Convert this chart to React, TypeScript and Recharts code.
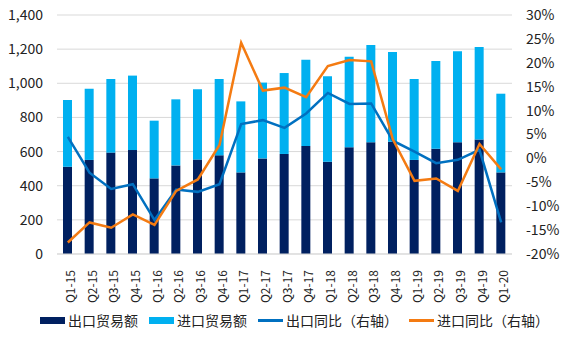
import {
  Bar,
  CartesianGrid,
  ComposedChart,
  Legend,
  Line,
  XAxis,
  YAxis,
} from "recharts";

const QUARTERS = [
  "Q1-15", "Q2-15", "Q3-15", "Q4-15",
  "Q1-16", "Q2-16", "Q3-16", "Q4-16",
  "Q1-17", "Q2-17", "Q3-17", "Q4-17",
  "Q1-18", "Q2-18", "Q3-18", "Q4-18",
  "Q1-19", "Q2-19", "Q3-19", "Q4-19",
  "Q1-20",
];

// 贸易额（左轴）
const EXPORT_VALUE = [
  511, 551, 594, 609, 443, 519, 553, 578, 478, 560, 586,
  633, 541, 625, 654, 658, 551, 617, 654, 670, 478,
];
const IMPORT_VALUE = [
  391, 417, 431, 436, 338, 387, 412, 447, 416, 444, 474,
  505, 500, 531, 570, 525, 474, 514, 533, 543, 461,
];

// 同比，%（右轴）
const EXPORT_YOY = [
  4.5, -3.0, -6.4, -5.4, -12.9, -6.5, -7.0, -5.4, 7.2, 8.0, 6.4,
  9.4, 13.7, 11.4, 11.5, 3.7, 1.4, -1.0, -0.3, 1.8, -13.4,
];
const IMPORT_YOY = [
  -17.6, -13.4, -14.5, -11.7, -13.9, -6.8, -4.4, 2.8, 24.2, 14.2, 14.8,
  12.8, 19.3, 20.6, 20.3, 4.0, -4.7, -4.2, -6.8, 3.0, -2.3,
];

const LEFT_TICKS = [0, 200, 400, 600, 800, 1000, 1200, 1400];
const RIGHT_TICKS = [-20, -15, -10, -5, 0, 5, 10, 15, 20, 25, 30];

const COLORS = {
  exportBar: "#002060",
  importBar: "#00B0F0",
  exportLine: "#0070C0",
  importLine: "#F47B12",
};

const FONT = '"Noto Sans CJK SC", "Noto Sans", sans-serif';

const LEGEND_ITEMS = [
  { label: "出口贸易额", color: COLORS.exportBar, kind: "box" },
  { label: "进口贸易额", color: COLORS.importBar, kind: "box" },
  { label: "出口同比（右轴）", color: COLORS.exportLine, kind: "line" },
  { label: "进口同比（右轴）", color: COLORS.importLine, kind: "line" },
];

const data = QUARTERS.map((q, i) => ({
  quarter: q,
  exportValue: EXPORT_VALUE[i],
  importValue: IMPORT_VALUE[i],
  exportYoy: EXPORT_YOY[i],
  importYoy: IMPORT_YOY[i],
}));

function QuarterTick(props: any) {
  const { x, y, payload } = props;
  return (
    <text
      x={0}
      y={0}
      transform={`translate(${x + 7},${y + 8}) rotate(-90)`}
      textAnchor="end"
      fontSize={12}
      fill="#222"
      fontFamily={FONT}
    >
      {payload.value}
    </text>
  );
}

function TradeLegend() {
  return (
    <div
      style={{
        display: "flex",
        alignItems: "center",
        paddingLeft: 40,
        height: 26,
        fontFamily: FONT,
        fontSize: 14,
        color: "#222",
      }}
    >
      {LEGEND_ITEMS.map((item) => (
        <div
          key={item.label}
          style={{ display: "flex", alignItems: "center", marginRight: 11 }}
        >
          <span
            style={{
              width: 25,
              height: item.kind === "box" ? 7 : 3,
              background: item.color,
              marginRight: 3,
            }}
          />
          <span>{item.label}</span>
        </div>
      ))}
    </div>
  );
}

export default function App() {
  return (
    <div style={{ position: "absolute", left: 0, top: 0, background: "#fff" }}>
      <ComposedChart
        width={568}
        height={341}
        data={data}
        margin={{ top: 15, right: 0, bottom: 8, left: 0 }}
      >
        <CartesianGrid vertical={false} stroke="#D9D9D9" yAxisId="left" />
        <XAxis
          dataKey="quarter"
          interval={0}
          tick={<QuarterTick />}
          tickLine={false}
          axisLine={{ stroke: "#D9D9D9" }}
          height={53}
        />
        <YAxis
          yAxisId="left"
          domain={[0, 1400]}
          ticks={LEFT_TICKS}
          width={57}
          tickLine={false}
          axisLine={false}
          tickMargin={8}
          tick={{ fontSize: 14, fill: "#222", fontFamily: FONT }}
          tickFormatter={(v: number) => v.toLocaleString("en-US")}
        />
        <YAxis
          yAxisId="right"
          orientation="right"
          domain={[-20, 30]}
          ticks={RIGHT_TICKS}
          width={56}
          tickLine={false}
          axisLine={false}
          tickMargin={8}
          tick={{ fontSize: 14, fill: "#222", fontFamily: FONT }}
          tickFormatter={(v: number) => `${v}%`}
        />
        <Legend verticalAlign="bottom" height={26} content={<TradeLegend />} />
        <Bar
          yAxisId="left"
          dataKey="exportValue"
          name="出口贸易额"
          stackId="trade"
          fill={COLORS.exportBar}
          barSize={9}
          isAnimationActive={false}
        />
        <Bar
          yAxisId="left"
          dataKey="importValue"
          name="进口贸易额"
          stackId="trade"
          fill={COLORS.importBar}
          barSize={9}
          isAnimationActive={false}
        />
        <Line
          yAxisId="right"
          dataKey="exportYoy"
          name="出口同比（右轴）"
          stroke={COLORS.exportLine}
          strokeWidth={2.5}
          dot={false}
          type="linear"
          isAnimationActive={false}
        />
        <Line
          yAxisId="right"
          dataKey="importYoy"
          name="进口同比（右轴）"
          stroke={COLORS.importLine}
          strokeWidth={2.5}
          dot={false}
          type="linear"
          isAnimationActive={false}
        />
      </ComposedChart>
    </div>
  );
}
